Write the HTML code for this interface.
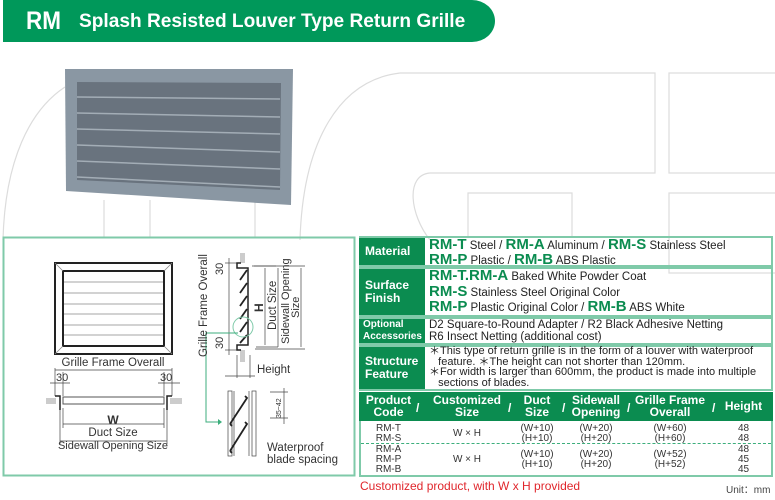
<!DOCTYPE html>
<html><head><meta charset="utf-8"><style>
*{margin:0;padding:0;box-sizing:border-box}
body{width:775px;height:500px;position:relative;background:#fff;font-family:"Liberation Sans",Arial,sans-serif;overflow:hidden;color:#333}
.abs{position:absolute}
.lab{position:absolute;left:359px;width:66px;background:#0b8c50;color:#fff;font-weight:bold;font-size:12px;line-height:13px;padding-left:6px;display:flex;flex-direction:column;justify-content:center}
.cell{position:absolute;left:425px;width:348px;font-size:11.5px;line-height:13px;padding-left:4px;color:#222}
.g{color:#0b8c50;font-weight:bold;font-size:15px}
.row{position:absolute;left:359px;width:414px;border:2px solid #7fcaa9}
.th{position:absolute;top:394px;color:#fff;font-weight:bold;font-size:12px;line-height:12px;text-align:center}
.td{position:absolute;font-size:10px;line-height:10px;text-align:center;color:#333}
</style></head><body>
<svg class="abs" style="left:0;top:0" width="775" height="500">
<g fill="none" stroke="#dcdcdc" stroke-width="1.2">
<path d="M3,240 C5,160 30,110 65,87"/>
<path d="M300,240 C303,140 340,80 400,73 L655,73 L655,173 L430,173 C405,175 410,215 430,240"/>
<rect x="669" y="73" width="110" height="100"/>
<rect x="669" y="193" width="110" height="80"/>
<path d="M468,238 L468,193 L572,193 L572,238"/>
<path d="M104,238 V200 M150,238 V200 M255,238 V200"/>
</g>
<path d="M3,0 H472 A23,21 0 0 1 495,21 A23,21 0 0 1 472,42 H3 Z" fill="#00985a"/>
<polygon points="65,69 293,69 291,205 66,191" fill="#8a97a3"/>
<polygon points="77,82 281,83 280,190 77,180" fill="#69737e"/>
<g stroke="#a3adb6" stroke-width="1.5">
<line x1="77" y1="97" x2="280" y2="99"/><line x1="77" y1="113" x2="280" y2="117"/><line x1="77" y1="129" x2="280" y2="134"/><line x1="77" y1="145" x2="280" y2="152"/><line x1="77" y1="161" x2="280" y2="169"/><line x1="77" y1="177" x2="280" y2="187"/>
</g>
<rect x="3.5" y="237.5" width="351" height="238" fill="none" stroke="#7fcaa9" stroke-width="2"/>
<!-- front view -->
<rect x="55" y="263" width="117" height="91" fill="#fff" stroke="#222" stroke-width="2"/>
<rect x="63" y="271" width="101" height="75" fill="#fff" stroke="#222" stroke-width="2"/>
<g stroke="#888" stroke-width="0.8"><line x1="55" y1="263" x2="63" y2="271"/><line x1="172" y1="263" x2="164" y2="271"/><line x1="55" y1="354" x2="63" y2="346"/><line x1="172" y1="354" x2="164" y2="346"/>
<line x1="64" y1="282" x2="163" y2="282"/><line x1="64" y1="293" x2="163" y2="293"/><line x1="64" y1="304" x2="163" y2="304"/><line x1="64" y1="314" x2="163" y2="314"/><line x1="64" y1="325" x2="163" y2="325"/><line x1="64" y1="335" x2="163" y2="335"/></g>
<g stroke="#444" stroke-width="0.7" fill="none">
<line x1="55" y1="370" x2="172" y2="370"/><line x1="55" y1="368" x2="55" y2="396"/><line x1="172" y1="368" x2="172" y2="396"/>
<line x1="50" y1="383" x2="70" y2="383"/><line x1="63" y1="372" x2="63" y2="396"/><line x1="158" y1="383" x2="180" y2="383"/><line x1="164" y1="372" x2="164" y2="396"/>
<line x1="63" y1="424" x2="164" y2="424"/><line x1="60" y1="441" x2="167" y2="441"/><line x1="63" y1="408" x2="63" y2="428"/><line x1="164" y1="408" x2="164" y2="428"/><line x1="60" y1="408" x2="60" y2="444"/><line x1="167" y1="408" x2="167" y2="444"/>
</g>
<path d="M55,396 H60 V410 M172,396 H167 V410" stroke="#222" stroke-width="1.5" fill="none"/>
<rect x="63" y="397" width="101" height="7" fill="#fff" stroke="#555" stroke-width="1"/>
<rect x="46" y="398" width="10" height="6" fill="#ccc"/><rect x="170" y="398" width="12" height="6" fill="#ccc"/>
<!-- side view -->
<g stroke="#444" stroke-width="0.7" fill="none">
<line x1="229" y1="258" x2="229" y2="355"/><line x1="225" y1="263" x2="238" y2="263"/><line x1="225" y1="350" x2="238" y2="350"/>
<line x1="254" y1="266" x2="276" y2="266"/><line x1="256" y1="347" x2="278" y2="347"/>
<line x1="265" y1="268" x2="265" y2="345"/><line x1="278" y1="268" x2="278" y2="347"/>
<line x1="252" y1="266" x2="305" y2="266"/><line x1="255" y1="349" x2="305" y2="349"/><line x1="301" y1="268" x2="301" y2="347"/>
<line x1="237" y1="355" x2="237" y2="378"/><line x1="250" y1="355" x2="250" y2="378"/><line x1="225" y1="376" x2="255" y2="376"/>
<line x1="270" y1="392" x2="288" y2="392"/><line x1="270" y1="418" x2="288" y2="418"/><line x1="284" y1="388" x2="284" y2="424"/>
<rect x="228" y="391" width="4" height="65"/><rect x="252" y="391" width="4" height="65"/><line x1="234" y1="391" x2="234" y2="456"/><line x1="249" y1="391" x2="249" y2="456"/>
</g>
<rect x="240" y="253" width="5" height="10" fill="#ccc"/><rect x="240" y="350" width="5" height="12" fill="#ccc"/>
<path d="M241,263 H237 V268 H248 V345 H237 V350 H241" stroke="#222" stroke-width="1.5" fill="none"/>
<g stroke="#222" stroke-width="1.8"><line x1="240" y1="280" x2="247" y2="270"/><line x1="240" y1="293" x2="247" y2="283"/><line x1="240" y1="306" x2="247" y2="296"/><line x1="240" y1="319" x2="247" y2="309"/><line x1="240" y1="332" x2="247" y2="322"/><line x1="240" y1="343" x2="247" y2="335"/>
<path d="M230,424 L247,398 L245,396 M230,424 L232,426" fill="none"/><path d="M230,451 L247,424 L245,422 M230,451 L232,453" fill="none"/></g>
<circle cx="243" cy="327" r="10" fill="none" stroke="#7fcaa9"/>
<path d="M238,333 H206 V422 H218" stroke="#3cae7c" fill="none"/><path d="M218,419 L222,422 L218,425Z" fill="#3cae7c"/>
<g font-size="11.5" fill="#333">
<text x="113" y="366" text-anchor="middle">Grille Frame Overall</text>
<text x="56" y="381" font-size="11">30</text><text x="160" y="381" font-size="11">30</text>
<text x="113" y="424" text-anchor="middle" font-weight="bold" font-size="12">W</text>
<text x="113" y="436" text-anchor="middle">Duct Size</text>
<text x="113" y="449" text-anchor="middle" font-size="11">Sidewall Opening Size</text>
<text transform="translate(207,357) rotate(-90)" >Grille Frame Overall</text>
<text transform="translate(223,275) rotate(-90)" font-size="11">30</text>
<text transform="translate(223,349) rotate(-90)" font-size="11">30</text>
<text transform="translate(263,312) rotate(-90)" font-weight="bold" font-size="12">H</text>
<text transform="translate(276,330) rotate(-90)">Duct Size</text>
<text transform="translate(289,344) rotate(-90)" font-size="11">Sidewall Opening</text>
<text transform="translate(299,318) rotate(-90)" font-size="11">Size</text>
<text x="257" y="373">Height</text>
<text transform="translate(281,418) rotate(-90)" font-size="7">35~42</text>
<text x="267" y="451">Waterproof</text><text x="267" y="463">blade spacing</text>
</g>
</svg>
<div class="abs" style="left:26px;top:7px;color:#fff;font-weight:bold;font-size:25px;transform:scaleX(0.9);transform-origin:left">RM</div>
<div class="abs" style="left:79px;top:10px;color:#fff;font-weight:bold;font-size:19.5px;transform:scaleX(0.98);transform-origin:left">Splash Resisted Louver Type Return Grille</div>

<div class="row" style="top:236px;height:31px"></div>
<div class="lab" style="top:238px;height:27px">Material</div>
<div class="cell" style="top:238px"><span class="g">RM-T</span> Steel / <span class="g">RM-A</span> Aluminum / <span class="g">RM-S</span> Stainless Steel<br><span class="g">RM-P</span> Plastic / <span class="g">RM-B</span> ABS Plastic</div>
<div class="row" style="top:267px;height:50px"></div>
<div class="lab" style="top:269px;height:46px">Surface<br>Finish</div>
<div class="cell" style="top:269px;line-height:14.5px"><span class="g">RM-T.RM-A</span> Baked White Powder Coat<br><span class="g">RM-S</span> Stainless Steel Original Color<br><span class="g">RM-P</span> Plastic Original Color / <span class="g">RM-B</span> ABS White</div>
<div class="row" style="top:317px;height:28px"></div>
<div class="lab" style="top:319px;height:24px;font-size:10px;line-height:12px;padding-left:4px">Optional<br>Accessories</div>
<div class="cell" style="top:319px;line-height:12px">D2 Square-to-Round Adapter / R2 Black Adhesive Netting<br>R6 Insect Netting (additional cost)</div>
<div class="row" style="top:345px;height:46px"></div>
<div class="lab" style="top:347px;height:42px">Structure<br>Feature</div>
<div class="cell" style="top:346px;line-height:10.5px;font-size:11px">＊This type of return grille is in the form of a louver with waterproof<br>&nbsp;&nbsp;&nbsp;feature. ＊The height can not shorter than 120mm.<br>＊For width is larger than 600mm, the product is made into multiple<br>&nbsp;&nbsp;&nbsp;sections of blades.</div>

<div class="abs" style="left:359px;top:392px;width:414px;height:85px;border:2px solid #7fcaa9"></div>
<div class="abs" style="left:359px;top:392px;width:414px;height:29px;background:#0b8c50"></div>
<div class="th" style="left:361px;width:55px">Product<br>Code</div>
<div class="th" style="left:427px;width:80px">Customized<br>Size</div>
<div class="th" style="left:512px;width:50px">Duct<br>Size</div>
<div class="th" style="left:566px;width:60px">Sidewall<br>Opening</div>
<div class="th" style="left:632px;width:76px">Grille Frame<br>Overall</div>
<div class="th" style="left:716px;width:55px;top:400px">Height</div>
<div class="th" style="left:416px;top:402px">/</div><div class="th" style="left:508px;top:402px">/</div><div class="th" style="left:562px;top:402px">/</div><div class="th" style="left:627px;top:402px">/</div><div class="th" style="left:712px;top:402px">/</div>
<div class="abs" style="left:361px;top:443px;width:410px;border-top:1px dashed #3cae7c"></div>
<div class="td" style="left:361px;top:424px;width:55px">RM-T<br>RM-S</div>
<div class="td" style="left:427px;top:429px;width:80px">W × H</div>
<div class="td" style="left:512px;top:424px;width:50px">(W+10)<br>(H+10)</div>
<div class="td" style="left:566px;top:424px;width:60px">(W+20)<br>(H+20)</div>
<div class="td" style="left:632px;top:424px;width:76px">(W+60)<br>(H+60)</div>
<div class="td" style="left:716px;top:424px;width:55px">48<br>48</div>
<div class="td" style="left:361px;top:445px;width:55px">RM-A<br>RM-P<br>RM-B</div>
<div class="td" style="left:427px;top:455px;width:80px">W × H</div>
<div class="td" style="left:512px;top:450px;width:50px">(W+10)<br>(H+10)</div>
<div class="td" style="left:566px;top:450px;width:60px">(W+20)<br>(H+20)</div>
<div class="td" style="left:632px;top:450px;width:76px">(W+52)<br>(H+52)</div>
<div class="td" style="left:716px;top:445px;width:55px">48<br>45<br>45</div>
<div class="abs" style="left:360px;top:479px;color:#e0262c;font-size:12px">Customized product, with W x H provided</div>
<div class="abs" style="left:726px;top:481px;color:#444;font-size:10px">Unit：mm</div>
</body></html>
